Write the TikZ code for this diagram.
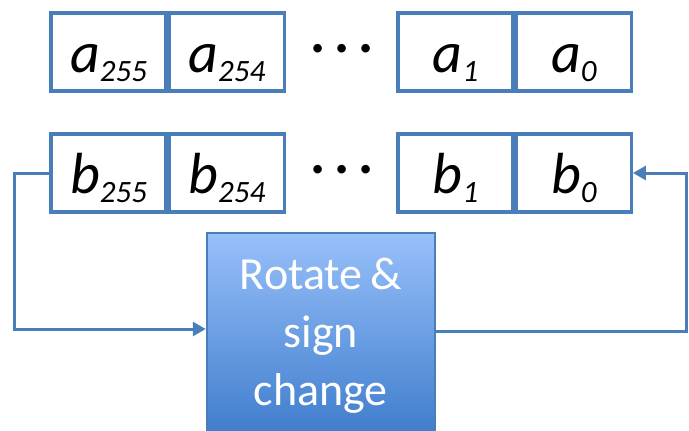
\documentclass[tikz,border=0pt]{standalone}
\usepackage{fontspec}
\setmainfont{Carlito}
\usepackage{tikz}
\usetikzlibrary{arrows.meta,positioning}

\definecolor{cellblue}{RGB}{74,126,187}
\definecolor{rottop}{RGB}{152,192,250}
\definecolor{rotbot}{RGB}{62,124,204}

% index label: letter with lowered digits
\newcommand\sublbl[2]{\itshape #1\raisebox{-0.16em}{\fontsize{31}{31}\selectfont #2}}
% three spaced dots between the cells
\newcommand\dotrow{\makebox[24pt]{·}\makebox[24pt]{·}\makebox[24pt]{·}}

\tikzset{
	cell/.style={draw=cellblue,line width=3.3pt,fill=white,inner sep=0pt,
		minimum width=115pt,minimum height=78pt,
		text height=44pt,text depth=4pt,font=\fontsize{58}{60}\selectfont},
	dotsnode/.style={inner sep=0pt,font=\fontsize{60}{62}\selectfont},
	rotbox/.style={draw=cellblue,line width=2pt,top color=rottop,bottom color=rotbot,
		minimum width=228pt,minimum height=205pt,inner sep=0pt,align=center,
		text=white,font=\fontsize{46}{58}\selectfont},
	loopline/.style={draw=cellblue,line width=3pt,-{Triangle[length=13pt,width=14pt]}}
}

\begin{document}
\begin{tikzpicture}[x=1pt,y=-1pt]
	\clip (0,0) rectangle (689,431);

	% register a
	\node[cell] (a255) at (108.5,52) {\sublbl{a}{255}};
	\node[cell,right=0pt of a255] (a254) {\sublbl{a}{254}};
	\node[dotsnode] (adots) at (342,54.5) {\dotrow};
	\node[cell] (a1) at (455.5,52) {\sublbl{a}{1}};
	\node[cell,right=0pt of a1] (a0) {\sublbl{a}{0}};

	% register b
	\node[cell] (b255) at (108.5,173) {\sublbl{b}{255}};
	\node[cell,right=0pt of b255] (b254) {\sublbl{b}{254}};
	\node[dotsnode] (bdots) at (342,175.5) {\dotrow};
	\node[cell] (b1) at (455.5,173) {\sublbl{b}{1}};
	\node[cell,right=0pt of b1] (b0) {\sublbl{b}{0}};

	\node[rotbox] (rot) at (320.75,335.75) {Rotate\,\&\\sign\\change};

	% feedback loop
	\coordinate (lft) at (14,329);
	\coordinate (rgt) at (686,331);
	\draw[loopline] (b255.west) -| (lft) -- (lft -| rot.west);
	\draw[loopline] (rot.east |- rgt) -- (rgt) |- (b0.east);
\end{tikzpicture}
\end{document}
